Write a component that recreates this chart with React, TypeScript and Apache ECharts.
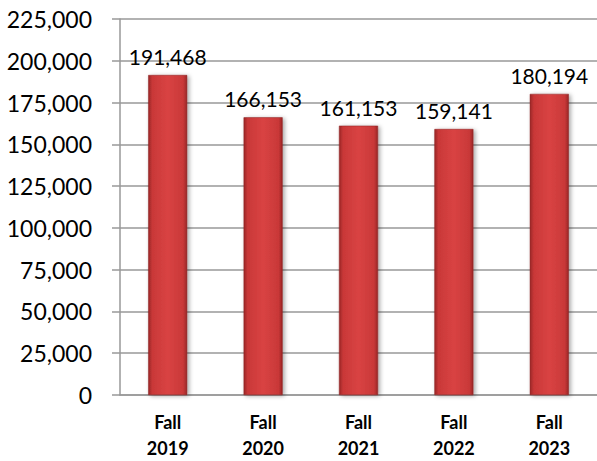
import React, { useEffect, useRef } from "react";
import * as echarts from "echarts";

const categories = ["Fall\n2019", "Fall\n2020", "Fall\n2021", "Fall\n2022", "Fall\n2023"];
const values = [191468, 166153, 161153, 159141, 180194];
const yTicks = { min: 0, max: 225000, interval: 25000 };

export default function App() {
  const ref = useRef<HTMLDivElement>(null);
  useEffect(() => {
    if (!ref.current) return;
    const chart = echarts.init(ref.current, undefined, { renderer: "svg" });
    const barColor = new echarts.graphic.LinearGradient(0, 0, 1, 0, [
      { offset: 0, color: "#9a2626" },
      { offset: 0.1, color: "#c93838" },
      { offset: 0.5, color: "#d94343" },
      { offset: 0.9, color: "#c93838" },
      { offset: 1, color: "#9a2626" },
    ]);
    const fmt = (v: number) => v.toLocaleString("en-US");
    chart.setOption({
      animation: false,
      textStyle: { fontFamily: "Lato" },
      grid: { left: 120, right: 0, top: 19, bottom: 62 },
      xAxis: {
        type: "category",
        data: categories,
        axisLine: { show: true, lineStyle: { color: "#999", width: 1.5 } },
        axisTick: { show: false },
        axisLabel: {
          color: "#000",
          fontFamily: "Lato",
          fontWeight: "bold",
          fontSize: 18,
          lineHeight: 26,
          margin: 14,
        },
      },
      yAxis: {
        type: "value",
        min: yTicks.min,
        max: yTicks.max,
        interval: yTicks.interval,
        axisLine: { show: true, lineStyle: { color: "#999", width: 1.5 } },
        axisTick: { show: true, length: 8, lineStyle: { color: "#999", width: 1.5 } },
        splitLine: { show: true, lineStyle: { color: "#999", width: 1.5 } },
        axisLabel: {
          color: "#000",
          fontFamily: "Lato",
          fontSize: 23,
          margin: 28,
          formatter: (v: number) => fmt(v),
        },
      },
      series: [
        {
          type: "bar",
          data: values,
          barWidth: 39,
          itemStyle: {
            color: barColor,
            borderColor: "#8a2020",
            borderWidth: 0.5,
            shadowBlur: 4,
            shadowColor: "rgba(0,0,0,0.35)",
            shadowOffsetX: 2,
            shadowOffsetY: 1,
          },
          label: {
            show: true,
            position: "top",
            distance: 8,
            color: "#000",
            fontFamily: "Lato",
            fontSize: 21,
            formatter: (p: any) => fmt(p.value),
          },
        },
      ],
    });
    return () => chart.dispose();
  }, []);
  return <div ref={ref} style={{ width: 597, height: 461, position: "absolute", left: 0, top: 0 }} />;
}
